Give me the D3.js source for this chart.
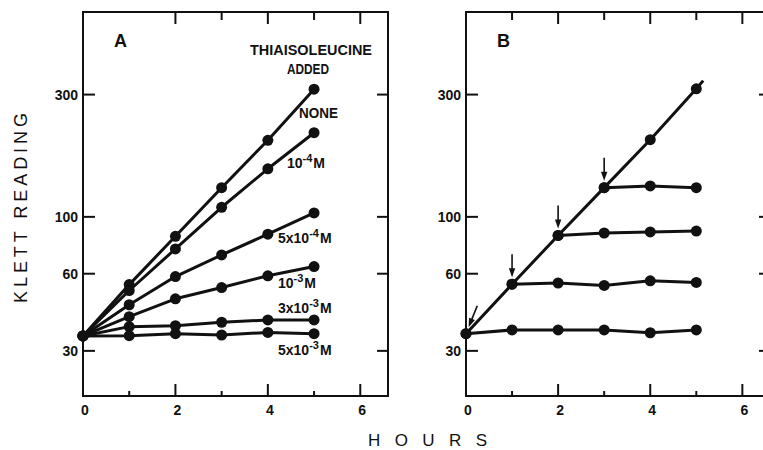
<!DOCTYPE html>
<meta charset="utf-8">
<html lang="en">
<head>
<script src="https://d3js.org/d3.v7.min.js"></script>
<style>
  body { margin: 0; background: #fff; }
  svg { display: block; }
  text { font-family: "Liberation Sans", Arial, sans-serif; fill: #111; }
  .tick-label { font-size: 14px; font-weight: bold; }
  .note { font-size: 14px; font-weight: bold; }
</style>
</head>
<body>
<svg></svg>
</body>
</html>
<script>
// ---- data ----
const hours = [0, 1, 2, 3, 4, 5];
const yTicks = [30, 60, 100, 300];
const xTickLabels = [0, 2, 4, 6];

// panel A: thiaisoleucine added at time 0
const none      = [34.3, 54.4, 84, 130, 199, 315];
const tenM4     = [34.3, 51.6, 75, 109, 154, 213];
const fiveM4    = [34.3, 45.4, 58.5, 71, 85.6, 103.6];
const tenM3     = [34.3, 40.8, 47.9, 53, 58.9, 64];
const threeM3   = [34.3, 37.3, 37.6, 38.8, 39.6, 39.6];
const fiveM3    = [34.3, 34.4, 35, 34.6, 35.4, 35];
const seriesA = [none, tenM4, fiveM4, tenM3, threeM3, fiveM3];

// panel B: control line and additions at 0,1,2,3 h
const control   = [35, 54.6, 84.6, 130, 200, 316];
const controlEnd = [5.15, 340];
const addAt0 = [35, 36.2, 36.2, 36.2, 35.3, 36.2];
const addAt1 = [54.6, 55.2, 54.0, 56.3, 55.5];
const addAt2 = [84.6, 86.5, 87.3, 88];
const addAt3 = [130, 132, 130];
const branchesB = [addAt0, addAt1, addAt2, addAt3];
const arrowHours = [0, 1, 2, 3];

let width = 763, height = 450;
let svg = d3.select("svg").attr("width", width).attr("height", height);

let plotTop = 12, plotBottom = 396;
let y = d3.scaleLog().domain([20, 630]).range([plotBottom, plotTop]);
let xA = d3.scaleLinear().domain([0, 6.6]).range([83, 388]);
let xB = d3.scaleLinear().domain([0, 6.6]).range([466, 770]);

function drawFrame(x, topTicks, label) {
  let g = svg.append("g");
  let x0 = x.range()[0], x1 = x.range()[1];
  g.append("rect").attr("x", x0).attr("y", plotTop)
    .attr("width", x1 - x0).attr("height", plotBottom - plotTop)
    .attr("fill", "none").attr("stroke", "#111").attr("stroke-width", 2);

  // y ticks, inside on both sides
  yTicks.forEach(v => {
    g.append("line").attr("x1", x0).attr("x2", x0 + 12)
      .attr("y1", y(v)).attr("y2", y(v)).attr("stroke", "#111").attr("stroke-width", 2);
    g.append("line").attr("x1", x1 - 11).attr("x2", x1)
      .attr("y1", y(v)).attr("y2", y(v)).attr("stroke", "#111").attr("stroke-width", 2);
    g.append("text").attr("class", "tick-label")
      .attr("x", x0 - 5).attr("y", y(v) + 5)
      .attr("text-anchor", "end").text(v);
  });

  // x ticks bottom (long on even hours) and top
  d3.range(1, 7).forEach(h => {
    let len = h % 2 === 0 ? 12 : 5;
    g.append("line").attr("x1", x(h)).attr("x2", x(h))
      .attr("y1", plotBottom).attr("y2", plotBottom - len)
      .attr("stroke", "#111").attr("stroke-width", 2);
  });
  topTicks.forEach(h => {
    let len = h % 2 === 0 ? 12 : 8;
    g.append("line").attr("x1", x(h)).attr("x2", x(h))
      .attr("y1", plotTop).attr("y2", plotTop + len)
      .attr("stroke", "#111").attr("stroke-width", 2);
  });
  xTickLabels.forEach(h => {
    g.append("text").attr("class", "tick-label")
      .attr("x", x(h) + 2).attr("y", plotBottom + 19)
      .attr("text-anchor", "middle").text(h);
  });

  g.append("text").attr("x", x0 + 31).attr("y", 47)
    .attr("font-size", 18).attr("font-weight", "bold").text(label);
}

drawFrame(xA, [2, 3, 4, 5, 6], "A");
drawFrame(xB, [1, 2, 3, 4, 5, 6], "B");

function drawSeries(x, pts) {
  let line = d3.line().x(d => x(d[0])).y(d => y(d[1]));
  svg.append("path").datum(pts).attr("d", line)
    .attr("fill", "none").attr("stroke", "#111").attr("stroke-width", 3)
    .attr("stroke-linejoin", "round");
}
function drawDots(x, pts) {
  svg.append("g").selectAll("circle").data(pts).enter().append("circle")
    .attr("cx", d => x(d[0])).attr("cy", d => y(d[1])).attr("r", 5.5)
    .attr("fill", "#111");
}

// panel A
seriesA.forEach(s => {
  let pts = s.map((v, i) => [hours[i], v]);
  drawSeries(xA, pts);
  drawDots(xA, pts);
});

// panel B
let ctrlPts = control.map((v, i) => [hours[i], v]);
drawSeries(xB, ctrlPts.concat([controlEnd]));
branchesB.forEach((s, k) => {
  let start = arrowHours[k];
  let pts = s.map((v, i) => [start + i, v]);
  drawSeries(xB, pts);
  drawDots(xB, pts);
});
drawDots(xB, ctrlPts);

// arrows marking time of addition
const arrowTilt = [22, 0, 0, 0];
arrowHours.forEach((h, k) => {
  let cx = xB(h), cy = y(control[h]);
  let a = arrowTilt[k] * Math.PI / 180;
  let tipOff = 7, len = 23;
  let tx = cx + Math.sin(a) * tipOff, ty = cy - Math.cos(a) * tipOff;
  let sx = cx + Math.sin(a) * (tipOff + len), sy = cy - Math.cos(a) * (tipOff + len);
  svg.append("line").attr("x1", sx).attr("y1", sy)
    .attr("x2", cx + Math.sin(a) * (tipOff + 6)).attr("y2", cy - Math.cos(a) * (tipOff + 6))
    .attr("stroke", "#111").attr("stroke-width", 1.6);
  svg.append("path")
    .attr("d", "M0,0 L-3.2,-9 L3.2,-9 Z")
    .attr("transform", `translate(${tx},${ty}) rotate(${arrowTilt[k]})`)
    .attr("fill", "#111");
});

// annotations panel A: parts are [text, isSuperscript]
function note(x, yy, parts, len) {
  let t = svg.append("text").attr("class", "note").attr("x", x).attr("y", yy);
  if (len) t.attr("textLength", len).attr("lengthAdjust", "spacingAndGlyphs");
  let raised = false;
  parts.forEach(p => {
    let ts = t.append("tspan").text(p[0]);
    if (p[1]) { ts.attr("dy", -6).attr("font-size", 11); raised = true; }
    else if (raised) { ts.attr("dy", 6).attr("dx", 1); raised = false; }
  });
}
note(250, 55, [["THIAISOLEUCINE"]], 122);
note(287, 74, [["ADDED"]], 42);
note(299, 118, [["NONE"]], 39);
note(287, 168, [["10"], ["-4", true], ["M"]]);
note(278, 243, [["5x10"], ["-4", true], ["M"]]);
note(278, 288, [["10"], ["-3", true], ["M"]]);
note(278, 313, [["3x10"], ["-3", true], ["M"]]);
note(278, 355, [["5x10"], ["-3", true], ["M"]]);

// axis titles
svg.append("text").attr("transform", "translate(27,303) rotate(-90)")
  .attr("font-size", 18).attr("textLength", 190).attr("lengthAdjust", "spacing")
  .text("KLETT READING");
svg.append("text").attr("x", 368).attr("y", 446)
  .attr("font-size", 17).attr("textLength", 119).attr("lengthAdjust", "spacing")
  .text("HOURS");
</script>
